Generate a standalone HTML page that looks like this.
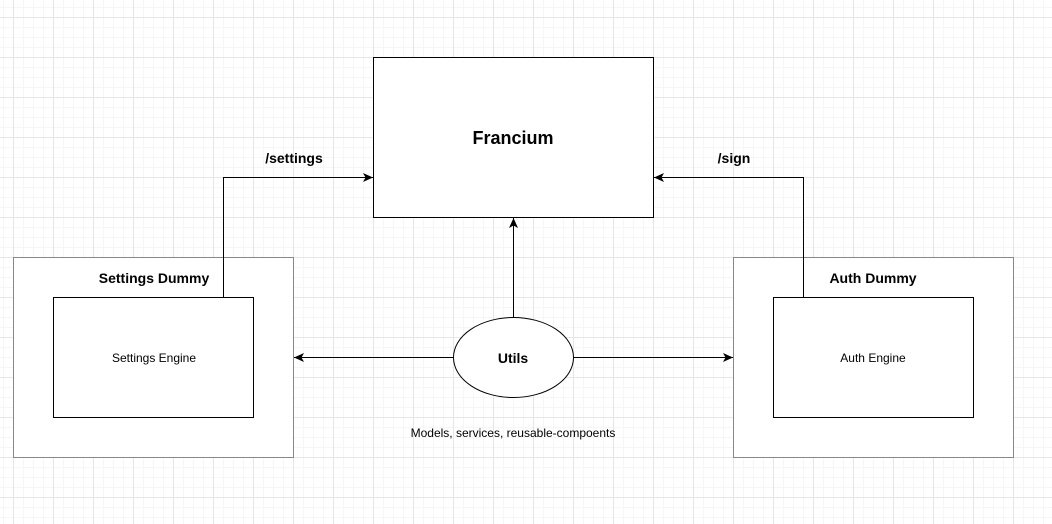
<!DOCTYPE html>
<html><head><meta charset="utf-8"><style>
html,body{margin:0;padding:0;background:#fff}
svg{display:block}
text{font-family:"Liberation Sans",Arial,sans-serif;fill:#000}
</style></head><body>
<svg width="1052" height="524" viewBox="0 0 1052 524" xmlns="http://www.w3.org/2000/svg">
<defs>
<pattern id="minor" x="3" y="7" width="10" height="10" patternUnits="userSpaceOnUse">
<path d="M0.5 0V10M0 0.5H10" stroke="#f6f6f6" stroke-width="1" fill="none"/>
</pattern>
<pattern id="major" x="13" y="17" width="40" height="40" patternUnits="userSpaceOnUse">
<path d="M0.5 0V40M0 0.5H40" stroke="#e6e6e6" stroke-width="1" fill="none"/>
</pattern>
<marker id="ah" markerWidth="12" markerHeight="12" refX="10" refY="6" orient="auto" markerUnits="userSpaceOnUse">
<path d="M0 1.5 L10 6 L0 10.5 L2.5 6 Z" fill="#000"/>
</marker>
</defs>
<rect width="1052" height="524" fill="url(#minor)"/>
<rect width="1052" height="524" fill="url(#major)"/>

<rect x="13.5" y="257.5" width="280" height="200" fill="#fff" stroke="#888"/>
<rect x="733.5" y="257.5" width="280" height="200" fill="#fff" stroke="#888"/>
<text x="154" y="283" font-size="14" font-weight="bold" text-anchor="middle">Settings Dummy</text>
<text x="873" y="283" font-size="14" font-weight="bold" text-anchor="middle">Auth Dummy</text>

<rect x="53.5" y="297.5" width="200" height="120" fill="#fff" stroke="#000"/>
<rect x="773.5" y="297.5" width="200" height="120" fill="#fff" stroke="#000"/>
<text x="154" y="362" font-size="12" text-anchor="middle">Settings Engine</text>
<text x="873" y="362" font-size="12" text-anchor="middle">Auth Engine</text>

<rect x="373.5" y="57.5" width="280" height="160" fill="#fff" stroke="#000"/>
<text x="513" y="144" font-size="18" font-weight="bold" text-anchor="middle">Francium</text>

<path d="M223.5 297 V177.5 H373" fill="none" stroke="#000" marker-end="url(#ah)"/>
<path d="M803.5 297 V177.5 H654" fill="none" stroke="#000" marker-end="url(#ah)"/>
<path d="M513.5 317 V218" fill="none" stroke="#000" marker-end="url(#ah)"/>
<path d="M453 357.5 H294" fill="none" stroke="#000" marker-end="url(#ah)"/>
<path d="M573 357.5 H733" fill="none" stroke="#000" marker-end="url(#ah)"/>
<text x="294" y="163" font-size="14" font-weight="bold" text-anchor="middle">/settings</text>
<text x="734" y="163" font-size="14" font-weight="bold" text-anchor="middle">/sign</text>

<ellipse cx="513.5" cy="357.5" rx="60" ry="40" fill="#fff" stroke="#000"/>
<text x="513" y="363" font-size="14" font-weight="bold" text-anchor="middle">Utils</text>
<text x="513" y="437" font-size="12" text-anchor="middle">Models, services, reusable-compoents</text>
</svg>
</body></html>
